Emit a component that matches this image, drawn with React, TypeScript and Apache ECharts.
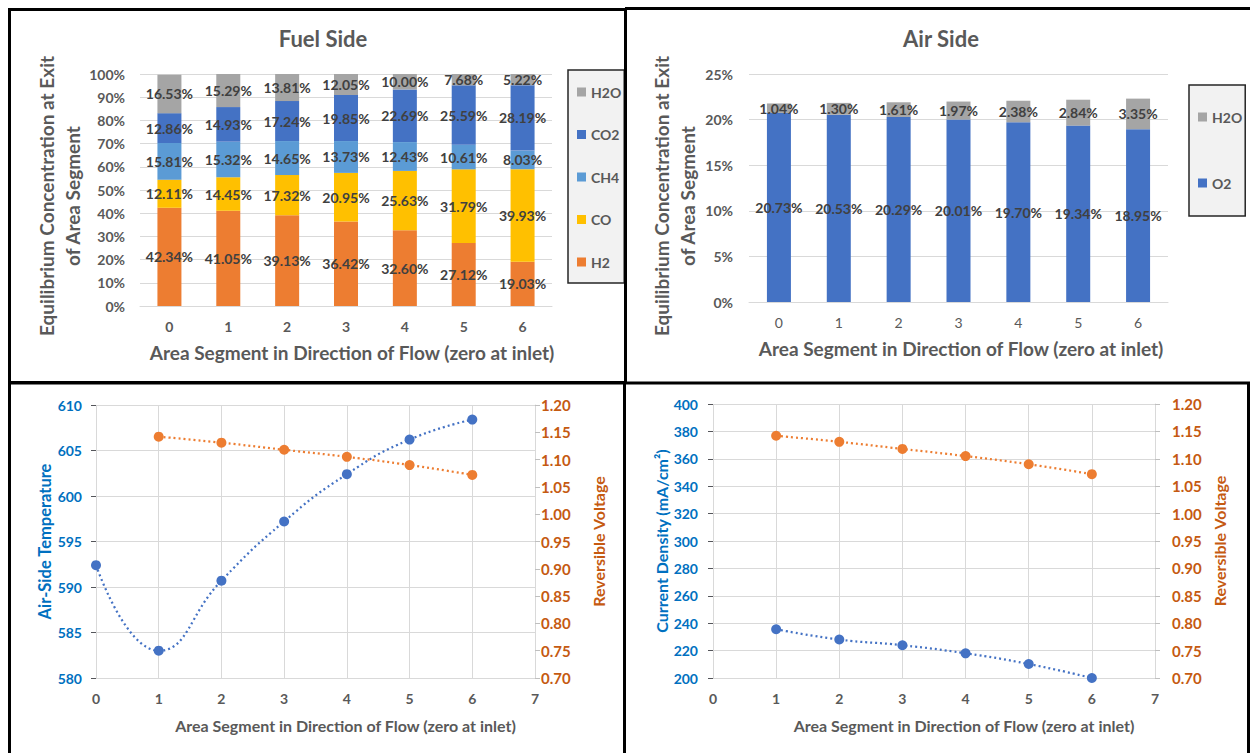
import React, { useEffect, useRef } from 'react';
import * as echarts from 'echarts';

const segments = ['0', '1', '2', '3', '4', '5', '6'];
const fuelH2 = [42.34, 41.05, 39.13, 36.42, 32.6, 27.12, 19.03];
const fuelCO = [12.11, 14.45, 17.32, 20.95, 25.63, 31.79, 39.93];
const fuelCH4 = [15.81, 15.32, 14.65, 13.73, 12.43, 10.61, 8.03];
const fuelCO2 = [12.86, 14.93, 17.24, 19.85, 22.69, 25.59, 28.19];
const fuelH2O = [16.53, 15.29, 13.81, 12.05, 10.0, 7.68, 5.22];
const airO2 = [20.73, 20.53, 20.29, 20.01, 19.7, 19.34, 18.95];
const airH2O = [1.04, 1.3, 1.61, 1.97, 2.38, 2.84, 3.35];
const tempSegments = [0, 1, 2, 3, 4, 5, 6];
const airTemperature = [592.4, 583.0, 590.7, 597.2, 602.4, 606.2, 608.4];
const voltSegments = [1, 2, 3, 4, 5, 6];
const reversibleVoltage = [1.142, 1.131, 1.118, 1.105, 1.09, 1.072];
const currentDensity = [235.6, 228.1, 223.9, 218.0, 210.2, 200.0];

const FONT = 'Lato, "Noto Sans", sans-serif';
const GRAY = '#595959';
const GRID = '#d9d9d9';
const BLUE_TXT = '#0070c0';
const ORANGE_TXT = '#c55a11';
const C_H2 = '#ed7d31';
const C_CO = '#ffc000';
const C_CH4 = '#5b9bd5';
const C_CO2 = '#4472c4';
const C_H2O = '#a5a5a5';

const pct = (p: any) => Number(p.value).toFixed(2) + '%';

function barSeries(name: string, data: number[], color: string, axis: number, stack: string) {
  return {
    type: 'bar',
    name,
    data,
    stack,
    xAxisIndex: axis,
    yAxisIndex: axis,
    barWidth: 24,
    itemStyle: { color },
    label: {
      show: true,
      position: 'inside',
      formatter: pct,
      color: '#404040',
      fontSize: 14,
      fontWeight: 'bold',
      fontFamily: FONT,
    },
  };
}

function pairs(xs: number[], ys: number[]) {
  return xs.map((x, i) => [x, ys[i]]);
}

export default function App() {
  const ref = useRef<HTMLDivElement>(null);
  useEffect(() => {
    if (!ref.current) return;
    const chart = echarts.init(ref.current, null, { renderer: 'svg' });
    const catX = (gridIndex: number, bold: boolean, shift: number) => ({
      type: 'category',
      gridIndex,
      data: segments,
      axisTick: { show: false },
      axisLine: { lineStyle: { color: GRID } },
      axisLabel: { color: GRAY, fontSize: 14, fontWeight: bold ? 'bold' : 'normal', margin: 13 },
      name: 'Area Segment in Direction of Flow (zero at inlet)',
      nameLocation: 'middle',
      nameGap: 37,
      nameTextStyle: { color: GRAY, fontSize: 19, fontWeight: 'bold', padding: [0, 0, 0, shift] },
    });
    const valX = (gridIndex: number) => ({
      type: 'value',
      gridIndex,
      min: 0,
      max: 7,
      interval: 1,
      axisTick: { show: false },
      axisLine: { show: true, lineStyle: { color: GRID } },
      splitLine: { show: true, lineStyle: { color: GRID } },
      axisLabel: { color: GRAY, fontSize: 14, fontWeight: 'bold', margin: 13 },
      name: 'Area Segment in Direction of Flow (zero at inlet)',
      nameLocation: 'middle',
      nameGap: 39,
      nameTextStyle: { color: GRAY, fontSize: 16, fontWeight: 'bold', padding: [0, 0, 0, 60] },
    });
    const rightVolt = (gridIndex: number, margin: number, nameGap: number) => ({
      type: 'value',
      gridIndex,
      position: 'right',
      min: 0.7,
      max: 1.2,
      interval: 0.05,
      splitLine: { show: false },
      axisLine: { show: true, lineStyle: { color: GRID } },
      axisTick: { show: true, length: 5, lineStyle: { color: '#bfbfbf' } },
      axisLabel: {
        color: ORANGE_TXT,
        fontSize: 15,
        fontWeight: 'bold',
        margin,
        formatter: (v: number) => v.toFixed(2),
      },
      name: 'Reversible Voltage',
      nameLocation: 'middle',
      nameRotate: 90,
      nameGap,
      nameTextStyle: { color: ORANGE_TXT, fontSize: 16, fontWeight: 'bold' },
    });
    const dotted = (color: string) => ({ color, width: 2.25, type: [2, 3] });

    const option: any = {
      animation: false,
      textStyle: { fontFamily: FONT },
      title: [
        {
          text: 'Fuel Side',
          left: 323,
          top: 27,
          padding: 0,
          textAlign: 'center',
          textStyle: { color: GRAY, fontSize: 22, fontWeight: 'bold', fontFamily: FONT },
        },
        {
          text: 'Air Side',
          left: 941,
          top: 27,
          padding: 0,
          textAlign: 'center',
          textStyle: { color: GRAY, fontSize: 22, fontWeight: 'bold', fontFamily: FONT },
        },
      ],
      legend: [
        {
          data: ['H2O', 'CO2', 'CH4', 'CO', 'H2'],
          orient: 'vertical',
          left: 568,
          top: 70,
          icon: 'rect',
          itemWidth: 9,
          itemHeight: 9,
          itemGap: 28.5,
          padding: [15, 3, 14, 9],
          backgroundColor: '#f2f2f2',
          borderColor: '#262626',
          borderWidth: 1.5,
          selectedMode: false,
          textStyle: { color: GRAY, fontSize: 14, fontWeight: 'bold', lineHeight: 14 },
        },
        {
          data: ['H2O', 'O2'],
          orient: 'vertical',
          left: 1189,
          top: 85,
          icon: 'rect',
          itemWidth: 9,
          itemHeight: 9,
          itemGap: 52,
          padding: [25, 3, 26, 9],
          backgroundColor: '#f2f2f2',
          borderColor: '#262626',
          borderWidth: 1.5,
          selectedMode: false,
          textStyle: { color: GRAY, fontSize: 14, fontWeight: 'bold', lineHeight: 14 },
        },
      ],
      grid: [
        { left: 140, top: 74, width: 412, height: 232 },
        { left: 749, top: 74, width: 419, height: 228 },
        { left: 96, top: 405, width: 439, height: 273 },
        { left: 713, top: 404, width: 442, height: 274 },
      ],
      xAxis: [catX(0, true, 12), catX(1, false, 5), valX(2), valX(3)],
      yAxis: [
        {
          type: 'value',
          gridIndex: 0,
          min: 0,
          max: 100,
          interval: 10,
          splitLine: { lineStyle: { color: GRID } },
          axisLabel: { color: GRAY, fontSize: 14, fontWeight: 'bold', margin: 15, formatter: '{value}%' },
          name: 'Equilibrium Concentration at Exit\nof Area Segment',
          nameLocation: 'middle',
          nameRotate: 90,
          nameGap: 53,
          nameTextStyle: { color: GRAY, fontSize: 19, fontWeight: 'bold', lineHeight: 26, padding: [0, 12, 0, 0] },
        },
        {
          type: 'value',
          gridIndex: 1,
          min: 0,
          max: 25,
          interval: 5,
          splitLine: { lineStyle: { color: GRID } },
          axisLabel: { color: GRAY, fontSize: 14, fontWeight: 'bold', margin: 16, formatter: '{value}%' },
          name: 'Equilibrium Concentration at Exit\nof Area Segment',
          nameLocation: 'middle',
          nameRotate: 90,
          nameGap: 49,
          nameTextStyle: { color: GRAY, fontSize: 19, fontWeight: 'bold', lineHeight: 26, padding: [0, 16, 0, 0] },
        },
        {
          type: 'value',
          gridIndex: 2,
          min: 580,
          max: 610,
          interval: 5,
          splitLine: { lineStyle: { color: GRID } },
          axisLine: { show: false },
          axisLabel: { color: BLUE_TXT, fontSize: 14, fontWeight: 'bold', margin: 14 },
          name: 'Air-Side Temperature',
          nameLocation: 'middle',
          nameRotate: 90,
          nameGap: 43,
          nameTextStyle: { color: BLUE_TXT, fontSize: 16.5, fontWeight: 'bold' },
        },
        rightVolt(2, 6, 55),
        {
          type: 'value',
          gridIndex: 3,
          min: 200,
          max: 400,
          interval: 20,
          splitLine: { lineStyle: { color: GRID } },
          axisLine: { show: false },
          axisLabel: { color: BLUE_TXT, fontSize: 14, fontWeight: 'bold', margin: 15 },
          name: 'Current Density (mA/cm²)',
          nameLocation: 'middle',
          nameRotate: 90,
          nameGap: 44,
          nameTextStyle: { color: BLUE_TXT, fontSize: 16, fontWeight: 'bold' },
        },
        rightVolt(3, 17, 56),
      ],
      series: [
        barSeries('H2', fuelH2, C_H2, 0, 'fuel'),
        barSeries('CO', fuelCO, C_CO, 0, 'fuel'),
        barSeries('CH4', fuelCH4, C_CH4, 0, 'fuel'),
        barSeries('CO2', fuelCO2, C_CO2, 0, 'fuel'),
        barSeries('H2O', fuelH2O, C_H2O, 0, 'fuel'),
        barSeries('O2', airO2, C_CO2, 1, 'air'),
        barSeries('H2O', airH2O, C_H2O, 1, 'air'),
        {
          type: 'line',
          name: 'Air-Side Temperature',
          xAxisIndex: 2,
          yAxisIndex: 2,
          data: pairs(tempSegments, airTemperature),
          smooth: true,
          symbol: 'circle',
          symbolSize: 10,
          itemStyle: { color: C_CO2 },
          lineStyle: dotted(C_CO2),
        },
        {
          type: 'line',
          name: 'Reversible Voltage',
          xAxisIndex: 2,
          yAxisIndex: 3,
          data: pairs(voltSegments, reversibleVoltage),
          smooth: true,
          symbol: 'circle',
          symbolSize: 10,
          itemStyle: { color: C_H2 },
          lineStyle: dotted(C_H2),
        },
        {
          type: 'line',
          name: 'Current Density',
          xAxisIndex: 3,
          yAxisIndex: 4,
          data: pairs(voltSegments, currentDensity),
          smooth: true,
          symbol: 'circle',
          symbolSize: 10,
          clip: false,
          itemStyle: { color: C_CO2 },
          lineStyle: dotted(C_CO2),
        },
        {
          type: 'line',
          name: 'Reversible Voltage ',
          xAxisIndex: 3,
          yAxisIndex: 5,
          data: pairs(voltSegments, reversibleVoltage),
          smooth: true,
          symbol: 'circle',
          symbolSize: 10,
          itemStyle: { color: C_H2 },
          lineStyle: dotted(C_H2),
        },
      ],
      graphic: [
        { type: 'rect', z: 100, shape: { x: 9.5, y: 9.5, width: 616, height: 373 }, style: { fill: 'none', stroke: '#000', lineWidth: 3 } },
        { type: 'line', z: 100, shape: { x1: 625, y1: 8.5, x2: 1250, y2: 8.5 }, style: { stroke: '#000', lineWidth: 3 } },
        { type: 'line', z: 100, shape: { x1: 8, y1: 383, x2: 1250, y2: 383 }, style: { stroke: '#000', lineWidth: 3 } },
        { type: 'line', z: 100, shape: { x1: 9.5, y1: 383, x2: 9.5, y2: 753 }, style: { stroke: '#000', lineWidth: 3 } },
        { type: 'line', z: 100, shape: { x1: 624.5, y1: 383, x2: 624.5, y2: 753 }, style: { stroke: '#000', lineWidth: 3 } },
        { type: 'line', z: 100, shape: { x1: 1248.5, y1: 383, x2: 1248.5, y2: 753 }, style: { stroke: '#000', lineWidth: 3 } },
      ],
    };
    chart.setOption(option);
    return () => chart.dispose();
  }, []);
  return (
    <div
      ref={ref}
      style={{ position: 'absolute', left: 0, top: 0, width: 1250, height: 753, background: '#fff' }}
    />
  );
}
